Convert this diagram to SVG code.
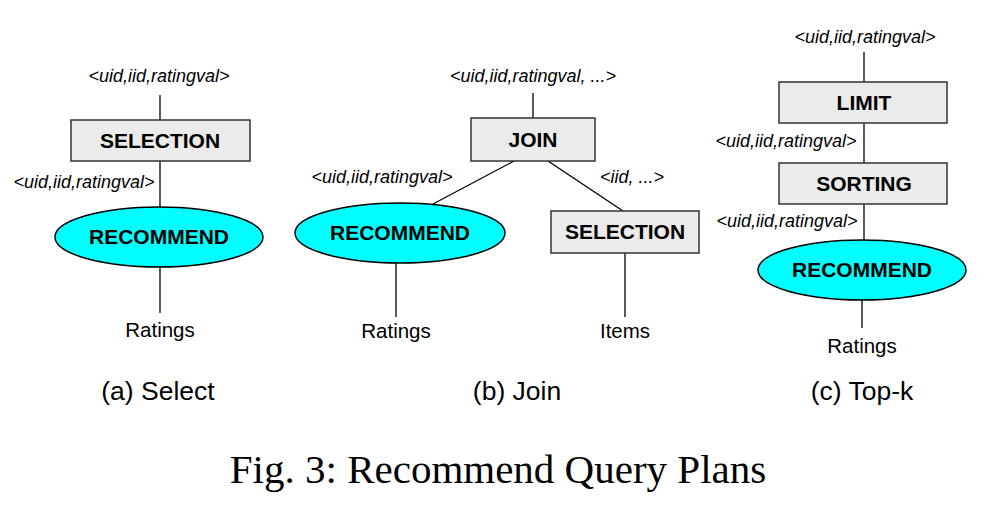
<svg xmlns="http://www.w3.org/2000/svg" width="986" height="530" viewBox="0 0 986 530">
<style>
.box{fill:#ebebeb;stroke:#333;stroke-width:1.5}
.ell{fill:#00ffff;stroke:#000;stroke-width:1.5}
.ln{stroke:#000;stroke-width:1.3;fill:none}
.op{font-family:"Liberation Sans",Arial,sans-serif;font-weight:bold;font-size:21px;text-anchor:middle;fill:#000}
.lab{font-family:"Liberation Sans",Arial,sans-serif;font-style:italic;font-size:18px;text-anchor:middle;fill:#000}
.src{font-family:"Liberation Sans",Arial,sans-serif;font-size:20.5px;text-anchor:middle;fill:#000}
.cap{font-family:"Liberation Sans",Arial,sans-serif;font-size:26.5px;text-anchor:middle;fill:#000}
.title{font-family:"Liberation Serif","Times New Roman",serif;font-size:41px;text-anchor:middle;fill:#000}
</style>
<rect width="986" height="530" fill="#fff"/>
<g id="connectors">
<line class="ln" x1="160" y1="95" x2="160" y2="120"/>
<line class="ln" x1="160" y1="161" x2="160" y2="207"/>
<line class="ln" x1="160" y1="267" x2="160" y2="313"/>
<line class="ln" x1="533" y1="93" x2="533" y2="118"/>
<line class="ln" x1="514" y1="161" x2="433" y2="204"/>
<line class="ln" x1="548" y1="161" x2="623" y2="211"/>
<line class="ln" x1="396" y1="263" x2="396" y2="317"/>
<line class="ln" x1="625" y1="253" x2="625" y2="317"/>
<line class="ln" x1="864" y1="52" x2="864" y2="82"/>
<line class="ln" x1="864" y1="123" x2="864" y2="163"/>
<line class="ln" x1="864" y1="204" x2="864" y2="240"/>
<line class="ln" x1="862" y1="300" x2="862" y2="328"/>
</g>
<g id="labels">
<text class="lab" x="159" y="82">&lt;uid,iid,ratingval&gt;</text>
<text class="lab" x="84" y="188">&lt;uid,iid,ratingval&gt;</text>
<text class="lab" x="533" y="82">&lt;uid,iid,ratingval, ...&gt;</text>
<text class="lab" x="382" y="183">&lt;uid,iid,ratingval&gt;</text>
<text class="lab" x="632" y="183">&lt;iid, ...&gt;</text>
<text class="lab" x="865" y="43">&lt;uid,iid,ratingval&gt;</text>
<text class="lab" x="786" y="147">&lt;uid,iid,ratingval&gt;</text>
<text class="lab" x="787" y="227">&lt;uid,iid,ratingval&gt;</text>
</g>
<g id="a-selection"><rect class="box" x="71" y="120" width="179" height="41"/><text class="op" x="160" y="148">SELECTION</text></g>
<g id="a-recommend"><ellipse class="ell" cx="159" cy="237" rx="104" ry="30"/><text class="op" x="159" y="244">RECOMMEND</text></g>
<g id="a-ratings"><text class="src" x="160" y="337">Ratings</text></g>
<g id="b-join"><rect class="box" x="471" y="118" width="124" height="43"/><text class="op" x="533" y="147">JOIN</text></g>
<g id="b-recommend"><ellipse class="ell" cx="400" cy="233" rx="105" ry="30"/><text class="op" x="400" y="240">RECOMMEND</text></g>
<g id="b-selection"><rect class="box" x="551" y="211" width="148" height="42"/><text class="op" x="625" y="239">SELECTION</text></g>
<g id="b-ratings"><text class="src" x="396" y="338">Ratings</text></g>
<g id="b-items"><text class="src" x="625" y="338">Items</text></g>
<g id="c-limit"><rect class="box" x="779" y="82" width="168" height="41"/><text class="op" x="864" y="110">LIMIT</text></g>
<g id="c-sorting"><rect class="box" x="779" y="163" width="168" height="41"/><text class="op" x="864" y="191">SORTING</text></g>
<g id="c-recommend"><ellipse class="ell" cx="862" cy="270" rx="104" ry="30"/><text class="op" x="862" y="277">RECOMMEND</text></g>
<g id="c-ratings"><text class="src" x="862" y="353">Ratings</text></g>
<g id="captions">
<text class="cap" x="158" y="400">(a) Select</text>
<text class="cap" x="517" y="400">(b) Join</text>
<text class="cap" x="862" y="400">(c) Top-k</text>
<text class="title" x="498" y="483">Fig. 3: Recommend Query Plans</text>
</g>
</svg>
